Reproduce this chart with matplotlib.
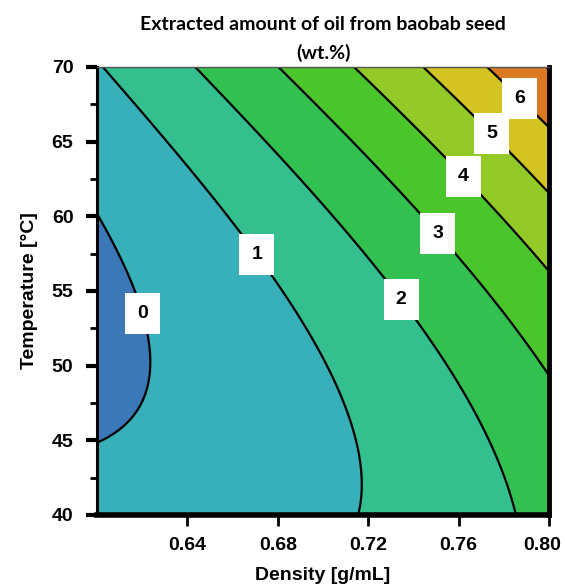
import numpy as np
import matplotlib
matplotlib.use("Agg")
import matplotlib.pyplot as plt
import matplotlib.transforms as mtransforms
from matplotlib.ticker import MultipleLocator

plt.rcParams["font.family"] = ["Liberation Sans", "DejaVu Sans"]

# Points traced along each contour line of the reference (density, temperature, level)
contour_D = [0.600, 0.608, 0.6176, 0.6235, 0.6205, 0.600,
             0.6013, 0.6264, 0.6456, 0.6633, 0.6765, 0.6957, 0.7105, 0.7171, 0.7171,
             0.6448, 0.6707, 0.7001, 0.7208, 0.7354, 0.7429, 0.7621, 0.7769, 0.7865,
             0.6817, 0.7001, 0.7208, 0.7518, 0.7769, 0.7997,
             0.7149, 0.7326, 0.7628, 0.7827, 0.7997,
             0.7444, 0.7680, 0.7754, 0.7916, 0.7997,
             0.7724, 0.7879, 0.7997,
             0.7990, 0.7997]
contour_T = [60.0, 57.75, 55.07, 50.4, 47.25, 45.0,
             70.0, 66.0, 62.65, 59.3, 56.4, 51.05, 46.6, 43.2, 40.1,
             70.0, 65.3, 60.4, 57.1, 54.5, 52.6, 47.7, 43.2, 40.1,
             70.0, 66.7, 63.8, 59.0, 54.85, 49.4,
             70.0, 66.45, 62.8, 59.3, 56.15,
             70.0, 66.45, 65.7, 63.1, 61.3,
             70.0, 68.0, 65.8,
             70.0, 69.8]
contour_Z = [0, 0, 0, 0, 0, 0,
             1, 1, 1, 1, 1, 1, 1, 1, 1,
             2, 2, 2, 2, 2, 2, 2, 2, 2,
             3, 3, 3, 3, 3, 3,
             4, 4, 4, 4, 4,
             5, 5, 5, 5, 5,
             6, 6, 6,
             7, 7]

levels = [-1, 0, 1, 2, 3, 4, 5, 6, 7, 8]
fill_colors = ["#3c78b8", "#37b0b9", "#34bf8e", "#32c150", "#4ac52c",
               "#94ca27", "#d3c323", "#d97a22", "#e3261d"]
label_D = [0.6204, 0.6712, 0.7354, 0.7518, 0.7628, 0.7752, 0.7876]
label_T = [53.5, 57.5, 54.5, 59.0, 62.8, 65.6, 68.0]
xticks = [0.64, 0.68, 0.72, 0.76, 0.80]
yticks = [40, 45, 50, 55, 60, 65, 70]

# Cubic response-surface fit through the traced contour points
D = np.array(contour_D); T = np.array(contour_T); Z = np.array(contour_Z, float)


def basis(uu, vv):
    return [np.ones_like(uu), uu, vv, uu * uu, vv * vv, uu * vv,
            uu ** 3, uu * uu * vv, uu * vv * vv, vv ** 3]


u = (D - 0.70) / 0.10; v = (T - 55.0) / 15.0
A = np.column_stack(basis(u, v))
coef, *_ = np.linalg.lstsq(A, Z, rcond=None)

gx = np.linspace(0.60, 0.80, 300)
gy = np.linspace(40, 70, 300)
GX, GY = np.meshgrid(gx, gy)
GU = (GX - 0.70) / 0.10; GV = (GY - 55.0) / 15.0
GZ = sum(c * b for c, b in zip(coef, basis(GU, GV)))

fig = plt.figure(figsize=(5.65, 5.87), dpi=100)
ax = fig.add_axes([0.1717, 0.1227, 0.80, 0.7632])

ax.contourf(GX, GY, GZ, levels=levels, colors=fill_colors)
cs = ax.contour(GX, GY, GZ, levels=levels[1:-1], colors="black", linewidths=1.6)
labels = ax.clabel(cs, inline=False, fmt="%d", fontsize=14,
                   manual=list(zip(label_D, label_T)), colors="black")
for t in labels:
    t.set_rotation(0)
    t.set_fontweight("bold")
    t.set_bbox(dict(boxstyle="square,pad=0.62", facecolor="white", edgecolor="none"))
    t.set_zorder(5)

ax.set_xlim(0.60, 0.80)
ax.set_ylim(40, 70)
ax.set_xticks(xticks)
ax.set_xticklabels([f"{x:.2f}" for x in xticks])
ax.set_yticks(yticks)
ax.yaxis.set_minor_locator(MultipleLocator(2.5))

for lab in ax.get_xticklabels() + ax.get_yticklabels():
    lab.set_fontweight("bold"); lab.set_fontsize(14)
ax.tick_params(axis="x", which="major", length=8, width=2, pad=8, direction="out")
ax.tick_params(axis="y", which="major", length=8, width=3, pad=9, direction="out")
ax.tick_params(axis="y", which="minor", length=5, width=2, direction="out")

# keep the last x tick label inside the figure, as in the reference
last = ax.get_xticklabels()[-1]
last.set_transform(last.get_transform() +
                   mtransforms.ScaledTranslation(-7 / 100, 0, fig.dpi_scale_trans))

ax.spines["left"].set_linewidth(2.2)
ax.spines["bottom"].set_linewidth(4)
ax.spines["right"].set_linewidth(3.5)
ax.spines["top"].set_linewidth(1.0)
ax.spines["top"].set_color("#555555")

ax.set_xlabel("Density [g/mL]", fontweight="bold", fontsize=14, labelpad=9)
ax.set_ylabel("Temperature [°C]", fontweight="bold", fontsize=14, labelpad=10)
ax.set_title("Extracted amount of oil from baobab seed\n(wt.%)", fontfamily="Lato",
             fontweight="bold", fontsize=14, pad=6, linespacing=1.7)

fig.savefig("out.png", dpi=100)
